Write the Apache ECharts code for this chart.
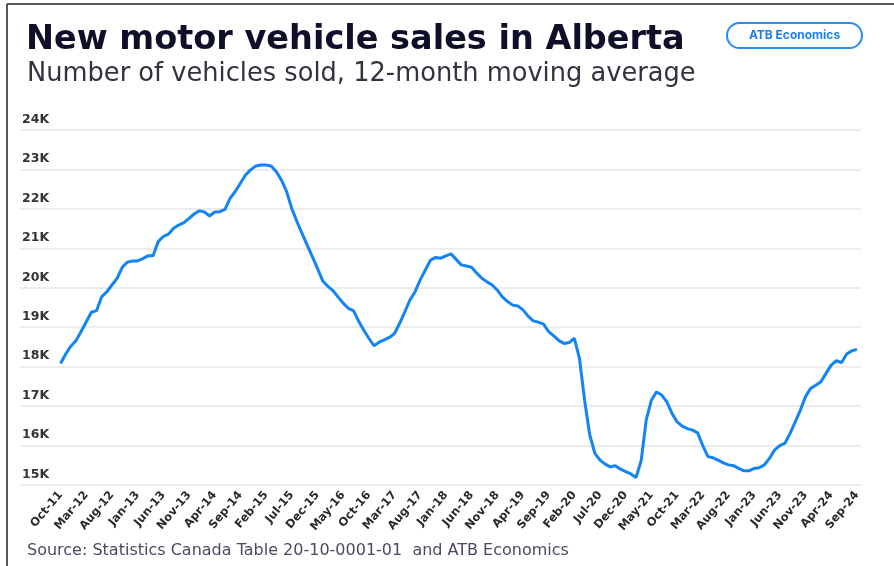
<!DOCTYPE html>
<html>
<head>
<meta charset="utf-8">
<title>New motor vehicle sales in Alberta</title>
<script src="https://cdn.jsdelivr.net/npm/echarts@6/dist/echarts.min.js"></script>
<style>
  html, body { margin: 0; padding: 0; background: #fff; }
  #chart { width: 894px; height: 566px; }
</style>
</head>
<body>
<div id="chart"></div>
<script>
// month labels, Oct-11 .. Sep-24 (one per month)
var monNames = ['Jan', 'Feb', 'Mar', 'Apr', 'May', 'Jun', 'Jul', 'Aug', 'Sep', 'Oct', 'Nov', 'Dec'];
var months = [];
for (var m = 0; m < 156; m++) {
  var mi = (9 + m) % 12;
  var yr = 11 + Math.floor((9 + m) / 12);
  months.push(monNames[mi] + '-' + yr);
}

// 12-month moving average of new vehicles sold
var sales = [
  18080, 18320, 18520, 18660, 18890, 19140, 19380, 19420, 19770, 19900,
  20070, 20240, 20520, 20650, 20680, 20680, 20740, 20810, 20810, 21170,
  21300, 21360, 21510, 21590, 21650, 21760, 21870, 21950, 21920, 21820,
  21920, 21930, 21990, 22270, 22440, 22650, 22860, 22990, 23090, 23110,
  23110, 23090, 22940, 22730, 22440, 22010, 21680, 21380, 21080, 20790,
  20490, 20180, 20040, 19930, 19770, 19610, 19480, 19420, 19160, 18930,
  18720, 18530, 18620, 18680, 18740, 18840, 19100, 19390, 19690, 19900,
  20200, 20450, 20700, 20770, 20750, 20810, 20860, 20720, 20580, 20550,
  20520, 20370, 20240, 20150, 20070, 19940, 19770, 19650, 19560, 19540,
  19440, 19280, 19160, 19130, 19080, 18890, 18780, 18660, 18590, 18610,
  18720, 18210, 17150, 16270, 15800, 15630, 15530, 15460, 15490, 15400,
  15340, 15280, 15190, 15610, 16650, 17150, 17360, 17280, 17110, 16820,
  16600, 16490, 16430, 16390, 16320, 16000, 15720, 15690, 15630, 15560,
  15510, 15490, 15420, 15360, 15360, 15420, 15440, 15510, 15680, 15890,
  16000, 16060, 16310, 16600, 16900, 17240, 17450, 17530, 17620, 17830,
  18040, 18150, 18100, 18320, 18400, 18440
];

// x labels every 5 months
var labelIdx = [];
for (var k = 0; k < sales.length; k += 5) labelIdx.push(k);

var yMin = 15000;
var yMax = 24000;
var yStep = 1000;

var chart = echarts.init(document.getElementById('chart'));

var option = {
  backgroundColor: '#fff',
  animation: false,
  title: [
    {
      text: 'New motor vehicle sales in Alberta',
      left: 26,
      top: 23,
      padding: 0,
      textStyle: { fontFamily: 'DejaVu Sans', fontSize: 33.5, fontWeight: 'bold', color: '#0f0f2a' }
    },
    {
      text: 'Number of vehicles sold, 12-month moving average',
      left: 27,
      top: 61,
      padding: 0,
      textStyle: { fontFamily: 'DejaVu Sans', fontSize: 25.7, fontWeight: 'normal', color: '#333340' }
    },
    {
      text: 'Source: Statistics Canada Table 20-10-0001-01  and ATB Economics',
      left: 27,
      top: 543,
      padding: 0,
      textStyle: { fontFamily: 'DejaVu Sans', fontSize: 16, fontWeight: 'normal', color: '#4a4a60' }
    }
  ],
  graphic: [
    // frame edges seen at top and left of the picture
    { type: 'line', shape: { x1: 7, y1: 4, x2: 894, y2: 4 }, style: { stroke: '#222', lineWidth: 1.5 } },
    { type: 'line', shape: { x1: 7, y1: 4, x2: 7, y2: 566 }, style: { stroke: '#222', lineWidth: 1.5 } },
    // ATB Economics badge
    {
      type: 'rect',
      shape: { x: 727, y: 23, width: 135, height: 25, r: 12.5 },
      style: { fill: '#fff', stroke: '#2a8cf0', lineWidth: 2 }
    },
    {
      type: 'text',
      x: 794.5,
      y: 35.5,
      style: {
        text: 'ATB Economics',
        fill: '#1f7fe6',
        font: 'bold 12px Inter',
        align: 'center',
        verticalAlign: 'middle'
      }
    }
  ],
  grid: {
    left: 20,
    right: 33,
    top: 130,
    bottom: 81,
    containLabel: false
  },
  xAxis: {
    type: 'value',
    min: -7.9,
    max: 155.8,
    axisLine: { show: false },
    axisTick: { show: false },
    splitLine: { show: false },
    axisLabel: {
      customValues: labelIdx,
      formatter: function (v) { return months[Math.round(v)] || ''; },
      rotate: 50,
      margin: 8,
      fontFamily: 'DejaVu Sans',
      fontSize: 11.5,
      fontWeight: 'bold',
      color: '#2a2a2a'
    }
  },
  yAxis: {
    type: 'value',
    min: yMin,
    max: yMax,
    interval: yStep,
    axisLine: { show: false },
    axisTick: { show: false },
    splitLine: { lineStyle: { color: '#ececec', width: 2 } },
    axisLabel: {
      inside: true,
      margin: 2,
      verticalAlign: 'bottom',
      padding: [0, 0, 4, 0],
      formatter: function (v) { return (v / 1000) + 'K'; },
      fontFamily: 'DejaVu Sans',
      fontSize: 12.5,
      fontWeight: 'bold',
      color: '#333'
    }
  },
  series: [
    {
      name: 'Sales',
      type: 'line',
      showSymbol: false,
      data: sales.map(function (v, i) { return [i, v]; }),
      lineStyle: { color: '#1284f5', width: 3 },
      itemStyle: { color: '#1284f5' }
    }
  ]
};

chart.setOption(option);
</script>
</body>
</html>
